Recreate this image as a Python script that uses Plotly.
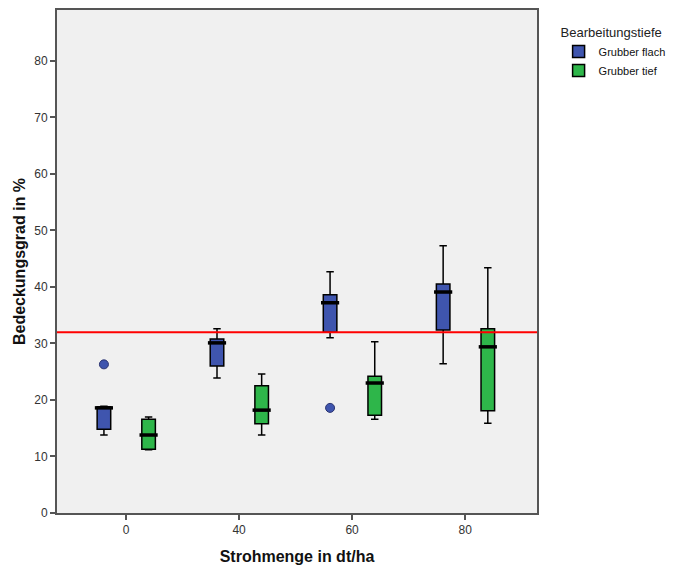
import plotly.graph_objects as go

categories = ["0", "40", "60", "80"]
groups = ["Grubber flach", "Grubber tief"]

flach_low = [13.8, 23.9, 31.0, 26.4]
flach_q1 = [14.8, 26.0, 32.0, 32.4]
flach_med = [18.6, 30.1, 37.2, 39.1]
flach_q3 = [18.8, 30.8, 38.6, 40.5]
flach_high = [18.9, 32.6, 42.7, 47.3]

tief_low = [11.2, 13.8, 16.6, 15.9]
tief_q1 = [11.3, 15.8, 17.3, 18.1]
tief_med = [13.8, 18.2, 23.0, 29.4]
tief_q3 = [16.6, 22.5, 24.2, 32.6]
tief_high = [17.0, 24.6, 30.3, 43.4]

outlier_cat = ["0", "60"]
outlier_val = [26.3, 18.6]

ref_line = 32.0

colors = {"Grubber flach": "#3F55AE", "Grubber tief": "#2EB64A"}
offsets = {"Grubber flach": -0.195, "Grubber tief": 0.2}

idx = {c: i for i, c in enumerate(categories)}

fig = go.Figure()

data = {
    "Grubber flach": (flach_low, flach_q1, flach_med, flach_q3, flach_high),
    "Grubber tief": (tief_low, tief_q1, tief_med, tief_q3, tief_high),
}

for g in groups:
    lo, q1, med, q3, hi = data[g]
    xs = [idx[c] + offsets[g] for c in categories]
    fig.add_trace(go.Box(
        x=xs, q1=q1, median=med, q3=q3, lowerfence=lo, upperfence=hi,
        name=g, fillcolor=colors[g],
        line=dict(color="#000000", width=1.5),
        width=0.12, whiskerwidth=0.55, boxpoints=False,
        showlegend=True, hoverinfo="skip",
    ))
    fig.add_trace(go.Scatter(
        x=xs, y=med, mode="markers",
        marker=dict(symbol="line-ew", size=13, line=dict(color="#000000", width=3.5)),
        showlegend=False, hoverinfo="skip",
    ))

fig.add_trace(go.Scatter(
    x=[idx[c] + offsets["Grubber flach"] for c in outlier_cat], y=outlier_val,
    mode="markers",
    marker=dict(symbol="circle", size=9, color=colors["Grubber flach"],
                line=dict(color="#2A3370", width=1)),
    showlegend=False, hoverinfo="skip",
))

fig.add_shape(type="line", xref="paper", x0=0, x1=1, yref="y", y0=ref_line, y1=ref_line,
              line=dict(color="#FF0000", width=2))

fig.update_layout(
    width=673, height=562,
    margin=dict(l=49, r=144, t=2, b=57),
    paper_bgcolor="white",
    plot_bgcolor="#F0F0F0",
    font=dict(family="Liberation Sans, Arial, sans-serif", size=12, color="#333333"),
    showlegend=True,
    legend=dict(
        title=dict(text="Bearbeitungstiefe", font=dict(size=13, color="#222222")),
        x=1.045, xanchor="left", y=0.98, yanchor="top",
        font=dict(size=11, color="#111111"),
        tracegroupgap=0, itemwidth=30,
        bgcolor="rgba(0,0,0,0)",
    ),
    xaxis=dict(
        range=[-0.61, 3.635], tickvals=list(range(len(categories))), ticktext=categories,
        showgrid=False, zeroline=False, automargin=False,
        showline=True, linecolor="#555555", linewidth=2, mirror=True,
        ticks="outside", ticklen=5, tickcolor="#555555", tickwidth=1.5,
        title=dict(text="<b>Strohmenge in dt/ha</b>", font=dict(size=16, color="#111111"), standoff=14),
    ),
    yaxis=dict(
        range=[0, 89], tickvals=[0, 10, 20, 30, 40, 50, 60, 70, 80],
        showgrid=False, zeroline=False, automargin=False,
        showline=True, linecolor="#555555", linewidth=2, mirror=True,
        ticks="outside", ticklen=5, tickcolor="#555555", tickwidth=1.5,
        title=dict(text="<b>Bedeckungsgrad in %</b>", font=dict(size=16, color="#111111"), standoff=5),
    ),
)

fig.write_html("out.html")
